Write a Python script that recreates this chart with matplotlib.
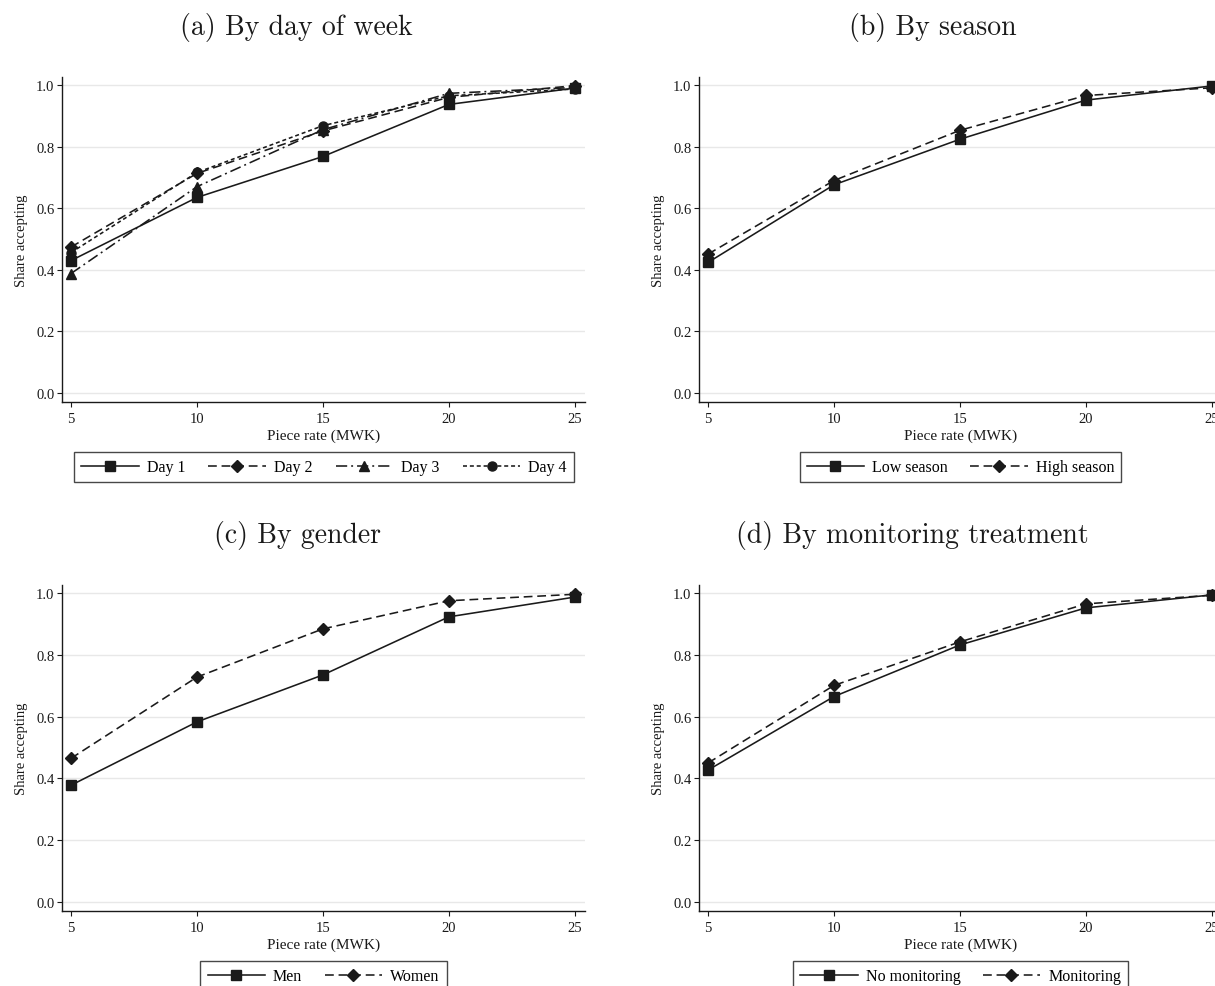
import matplotlib
matplotlib.use("Agg")
import matplotlib.pyplot as plt
from matplotlib.ticker import FormatStrFormatter

plt.rcParams["font.family"] = ["Liberation Serif", "DejaVu Serif"]

piece_rates = [5, 10, 15, 20, 25]

day1 = [0.430, 0.635, 0.768, 0.937, 0.990]
day2 = [0.474, 0.713, 0.851, 0.960, 0.998]
day3 = [0.388, 0.670, 0.855, 0.973, 0.992]
day4 = [0.456, 0.716, 0.868, 0.965, 0.987]

low_season = [0.424, 0.676, 0.824, 0.951, 0.997]
high_season = [0.451, 0.690, 0.853, 0.966, 0.991]

men = [0.378, 0.583, 0.735, 0.923, 0.987]
women = [0.465, 0.728, 0.884, 0.975, 0.996]

no_monitoring = [0.427, 0.665, 0.832, 0.952, 0.994]
monitoring = [0.450, 0.701, 0.842, 0.965, 0.993]

y_ticks = [0.0, 0.2, 0.4, 0.6, 0.8, 1.0]

INK = "#1a1a1a"
STYLES = {
    "solid_sq": dict(ls="-", marker="s", ms=6.5),
    "dash_dia": dict(ls=(0, (5.5, 3)), marker="D", ms=6),
    "dashdot_tri": dict(ls=(0, (7, 2.5, 1.2, 2.5)), marker="^", ms=7),
    "short_circ": dict(ls=(0, (2.5, 1.8)), marker="o", ms=6.5),
}

W, H = 1215, 987


def px_axes(fig, left, top, right, bottom):
    return fig.add_axes([left / W, 1 - bottom / H, (right - left) / W, (bottom - top) / H])


def style_axes(ax):
    ax.set_xlim(4.643, 25.4)
    ax.set_ylim(-0.029, 1.026)
    ax.set_xticks(piece_rates)
    ax.set_yticks(y_ticks)
    ax.yaxis.set_major_formatter(FormatStrFormatter("%.1f"))
    ax.grid(axis="y", color="#e8e8e8", lw=1.0)
    ax.set_axisbelow(True)
    for side in ("top", "right"):
        ax.spines[side].set_visible(False)
    for side in ("left", "bottom"):
        ax.spines[side].set_color(INK)
        ax.spines[side].set_linewidth(1.0)
    ax.tick_params(direction="out", length=3.5, width=0.8, colors=INK, labelsize=10.5)
    ax.tick_params(axis="x", pad=4)
    ax.tick_params(axis="y", pad=2)
    ax.set_xlabel("Piece rate (MWK)", fontsize=11, color=INK, labelpad=2)
    ax.set_ylabel("Share accepting", fontsize=10.5, color=INK, labelpad=6)


def draw(ax, series, legend_kw):
    for values, label, key in series:
        ax.plot(piece_rates, values, color=INK, lw=1.15, label=label, **STYLES[key])
    leg = ax.legend(loc="upper center", frameon=True, fancybox=False, fontsize=11.5,
                    handlelength=3.6, borderpad=0.45, handletextpad=0.5,
                    borderaxespad=0, **legend_kw)
    leg.get_frame().set_edgecolor(INK)
    leg.get_frame().set_linewidth(1.0)


fig = plt.figure(figsize=(W / 100, H / 100), dpi=100)

ax_a = px_axes(fig, 62, 78, 585, 403)
ax_b = px_axes(fig, 699, 78, 1222, 403)
ax_c = px_axes(fig, 62, 586, 585, 912)
ax_d = px_axes(fig, 699, 586, 1222, 912)

for ax in (ax_a, ax_b, ax_c, ax_d):
    style_axes(ax)

draw(ax_a, [(day1, "Day 1", "solid_sq"), (day2, "Day 2", "dash_dia"),
            (day3, "Day 3", "dashdot_tri"), (day4, "Day 4", "short_circ")],
     dict(ncol=4, mode="expand", bbox_to_anchor=(0.023, -0.254, 0.956, 0.1)))
draw(ax_b, [(low_season, "Low season", "solid_sq"), (high_season, "High season", "dash_dia")],
     dict(ncol=2, columnspacing=1.4, bbox_to_anchor=(0.5, -0.154)))
draw(ax_c, [(men, "Men", "solid_sq"), (women, "Women", "dash_dia")],
     dict(ncol=2, columnspacing=1.4, bbox_to_anchor=(0.5, -0.154)))
draw(ax_d, [(no_monitoring, "No monitoring", "solid_sq"), (monitoring, "Monitoring", "dash_dia")],
     dict(ncol=2, columnspacing=1.4, bbox_to_anchor=(0.5, -0.154)))

title_kw = dict(fontsize=20, family="cmr10", color=INK, ha="center", va="center")
fig.text(296 / W, 1 - 27 / H, "(a) By day of week", **title_kw)
fig.text(933 / W, 1 - 27 / H, "(b) By season", **title_kw)
fig.text(297 / W, 1 - 536 / H, "(c) By gender", **title_kw)
fig.text(912 / W, 1 - 536 / H, "(d) By monitoring treatment", **title_kw)

fig.savefig("out.png", dpi=100)
